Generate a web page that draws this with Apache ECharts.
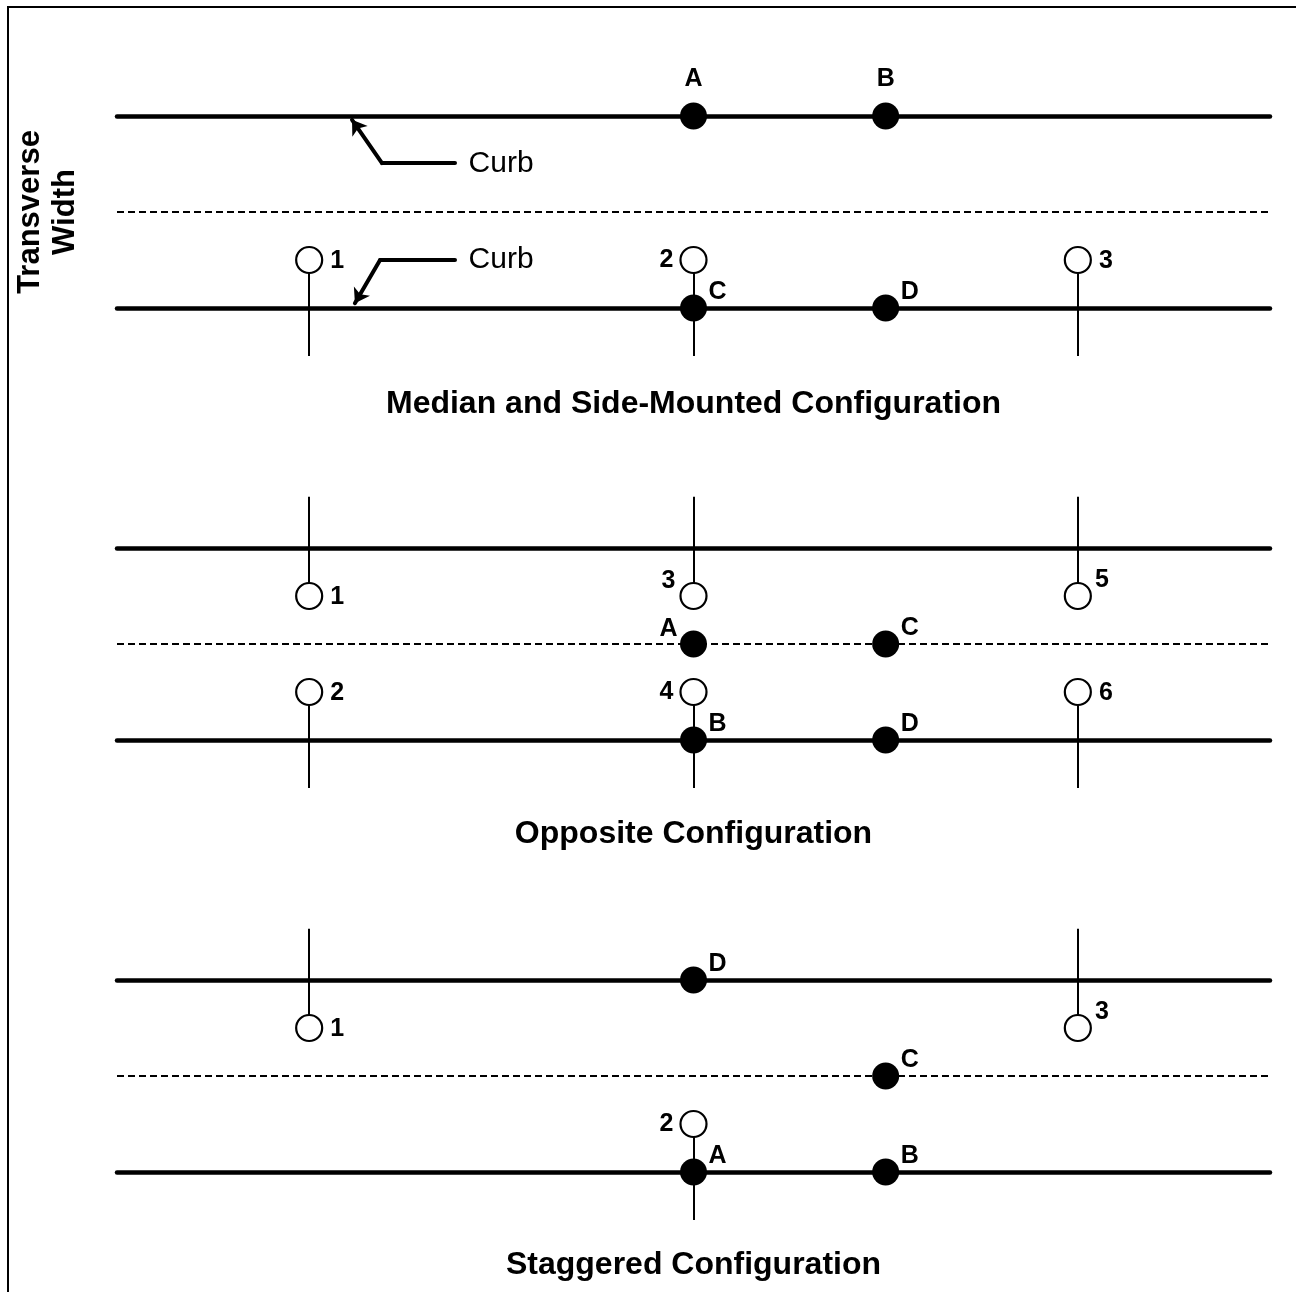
<!DOCTYPE html>
<html>
<head>
<meta charset="utf-8">
<script src="https://cdn.jsdelivr.net/npm/echarts@6/dist/echarts.min.js"></script>
<style>html,body{margin:0;padding:0;background:#fff}#c{width:1296px;height:1292px}</style>
</head>
<body>
<div id="c"></div>
<script>
// ---- data (road layout units: x along road, y transverse) ----
const roadStart = 0;
const roadEnd = 60;
const curbLines = [2, 6, 11, 15, 20, 24];
const medianLines = [4, 13, 22];
// poles: [x, yFrom, yTo]
const poles = [
  [10, 5, 7], [30, 5, 7], [50, 5, 7],
  [10, 9.93, 12], [30, 9.93, 12], [50, 9.93, 12],
  [10, 14, 16], [30, 14, 16], [50, 14, 16],
  [10, 18.93, 21], [50, 18.93, 21],
  [30, 23, 25]
];
// open luminaires: [x, y, label, labelSide]
const openLights = [
  [10, 5, '1', 'right'], [30, 5, '2', 'left'], [50, 5, '3', 'right'],
  [10, 12, '1', 'right'], [30, 12, '3', 'upleft'], [50, 12, '5', 'upright'],
  [10, 14, '2', 'right'], [30, 14, '4', 'left'], [50, 14, '6', 'right'],
  [10, 21, '1', 'right'], [50, 21, '3', 'upright'],
  [30, 23, '2', 'left']
];
// measurement points: [x, y, label, labelSide]
const measurePoints = [
  [30, 2, 'A', 'top'], [40, 2, 'B', 'top'], [30, 6, 'C', 'upright'], [40, 6, 'D', 'upright'],
  [30, 13, 'A', 'upleft'], [40, 13, 'C', 'upright'], [30, 15, 'B', 'upright'], [40, 15, 'D', 'upright'],
  [30, 20, 'D', 'upright'], [40, 22, 'C', 'upright'], [30, 24, 'A', 'upright'], [40, 24, 'B', 'upright']
];
const configTitles = [
  [30, 8, 'Median and Side-Mounted Configuration'],
  [30, 16.97, 'Opposite Configuration'],
  [30, 25.94, 'Staggered Configuration']
];
const curbNotes = [[18.27, 3, 'Curb'], [18.27, 5, 'Curb']];
// leader lines: arrow tip, elbow, end
const curbArrowTips = [[12.23, 2.08], [12.38, 5.9]];
const curbArrowElbows = [[13.79, 2.98], [13.69, 5]];
const curbArrowEnds = [[17.59, 2.98], [17.59, 5]];
const sideTitle = 'Transverse\nWidth';

// ---- styling helpers ----
const FONT = '"Liberation Sans", Arial, sans-serif';
const offsets = {
  top: [0, -37], right: [28, 1], left: [-27, 0],
  upright: [24, -16], upleft: [-25, -15]
};
function labelled(arr) {
  return arr.map(d => ({
    value: [d[0], d[1]],
    label: { show: true, position: 'inside', formatter: d[2], offset: offsets[d[3]] }
  }));
}

const chart = echarts.init(document.getElementById('c'), null, { renderer: 'canvas' });
chart.setOption({
  animation: false,
  backgroundColor: '#fff',
  grid: { left: 117, right: 26, top: 20, bottom: 24 },
  xAxis: { type: 'value', min: roadStart, max: roadEnd, show: false },
  yAxis: { type: 'value', min: 0, max: 26, inverse: true, show: false },
  graphic: [
    { type: 'polyline', shape: { points: [[8, 1300], [8, 7], [1300, 7]] },
      style: { stroke: '#000', lineWidth: 2, fill: null }, z: 0 },
    { type: 'text', x: 48, y: 212, rotation: Math.PI / 2,
      style: { text: sideTitle, font: 'bold 31px ' + FONT, fill: '#000',
        align: 'center', verticalAlign: 'middle', lineHeight: 35 } }
  ],
  series: [
    {
      type: 'lines', coordinateSystem: 'cartesian2d', z: 1,
      data: curbLines.map(y => ({ coords: [[roadStart, y], [roadEnd, y]] })),
      lineStyle: { color: '#000', width: 4.5, cap: 'round', opacity: 1 },
      symbol: 'none', silent: true
    },
    {
      type: 'lines', coordinateSystem: 'cartesian2d', z: 1,
      data: medianLines.map(y => ({ coords: [[roadStart, y], [roadEnd, y]] })),
      lineStyle: { color: '#000', width: 2, type: [7, 4], opacity: 1 },
      symbol: 'none', silent: true
    },
    {
      type: 'lines', coordinateSystem: 'cartesian2d', z: 2,
      data: poles.map(p => ({ coords: [[p[0], p[1]], [p[0], p[2]]] })),
      lineStyle: { color: '#000', width: 2, opacity: 1 },
      symbol: 'none', silent: true
    },
    {
      type: 'lines', coordinateSystem: 'cartesian2d', z: 2,
      data: curbArrowTips.map((t, i) => ({ coords: [t, curbArrowElbows[i]] })),
      lineStyle: { color: '#000', width: 4, cap: 'round', opacity: 1 },
      symbol: ['arrow', 'none'], symbolSize: 14, silent: true
    },
    {
      type: 'lines', coordinateSystem: 'cartesian2d', z: 2,
      data: curbArrowElbows.map((e, i) => ({ coords: [e, curbArrowEnds[i]] })),
      lineStyle: { color: '#000', width: 4, cap: 'round', opacity: 1 },
      symbol: 'none', silent: true
    },
    {
      type: 'scatter', z: 3, symbol: 'circle', symbolSize: 26,
      itemStyle: { color: '#fff', borderColor: '#000', borderWidth: 2.2, opacity: 1 },
      label: { color: '#000', fontFamily: FONT, fontWeight: 'bold', fontSize: 25 },
      data: labelled(openLights), silent: true
    },
    {
      type: 'scatter', z: 4, symbol: 'circle', symbolSize: 27,
      itemStyle: { color: '#000', opacity: 1 },
      label: { color: '#000', fontFamily: FONT, fontWeight: 'bold', fontSize: 25 },
      data: labelled(measurePoints), silent: true
    },
    {
      type: 'scatter', z: 5, symbolSize: 1,
      itemStyle: { color: 'rgba(0,0,0,0)', opacity: 1 },
      label: { show: true, position: 'inside', color: '#000', fontFamily: FONT,
        fontWeight: 'bold', fontSize: 32, formatter: p => p.data[2] },
      data: configTitles, silent: true
    },
    {
      type: 'scatter', z: 5, symbolSize: 1,
      itemStyle: { color: 'rgba(0,0,0,0)', opacity: 1 },
      label: { show: true, position: 'right', distance: 0, color: '#000', fontFamily: FONT,
        fontSize: 30, formatter: p => p.data[2] },
      data: curbNotes, silent: true
    }
  ]
});
</script>
</body>
</html>
